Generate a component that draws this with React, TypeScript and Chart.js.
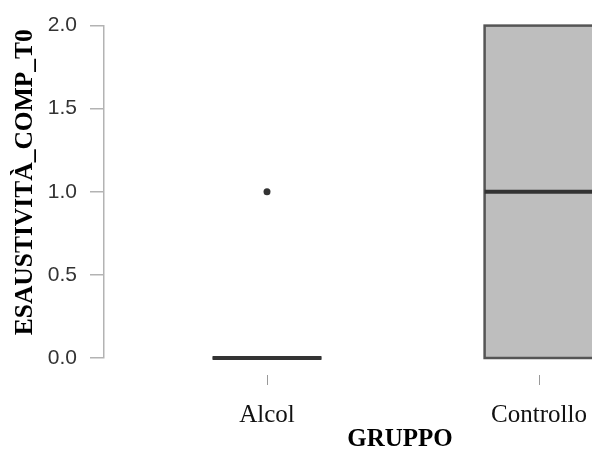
import React, { useEffect, useRef } from 'react';
import { Chart, registerables } from 'chart.js';

Chart.register(...registerables);

// Group summary statistics for the box plot
const groups = ['Alcol', 'Controllo'];
const groupPos = [1, 2];
const lowerWhisker = [0, 0];
const q1 = [0, 0];
const median = [0, 1];
const q3 = [0, 2];
const upperWhisker = [0, 2];
const outliers: number[][] = [[1], []];

const yTicks = [0, 0.5, 1, 1.5, 2];
const yTitle = 'ESAUSTIVITÀ_COMP_T0';
const xTitle = 'GRUPPO';

// half width of each box, in x-axis units
const BOX_HALF = 0.2;

const boxPlugin = {
  id: 'boxes',
  beforeDatasetsDraw(chart: any) {
    const { ctx, scales } = chart;
    const x = scales.x;
    const y = scales.y;
    ctx.save();
    groupPos.forEach((g, i) => {
      const l = x.getPixelForValue(g - BOX_HALF);
      const r = x.getPixelForValue(g + BOX_HALF);
      const cx = x.getPixelForValue(g);
      const top = y.getPixelForValue(q3[i]);
      const bot = y.getPixelForValue(q1[i]);

      // whiskers
      ctx.strokeStyle = '#4d4d4d';
      ctx.lineWidth = 2;
      ctx.beginPath();
      ctx.moveTo(cx, y.getPixelForValue(upperWhisker[i]));
      ctx.lineTo(cx, top);
      ctx.moveTo(cx, bot);
      ctx.lineTo(cx, y.getPixelForValue(lowerWhisker[i]));
      ctx.stroke();

      // box
      ctx.fillStyle = '#bebebe';
      ctx.fillRect(l, top, r - l, bot - top);
      ctx.strokeStyle = '#555555';
      ctx.lineWidth = 2.5;
      ctx.strokeRect(l, top, r - l, bot - top);

      // median
      ctx.strokeStyle = '#333333';
      ctx.lineWidth = 4;
      ctx.beginPath();
      const my = y.getPixelForValue(median[i]);
      ctx.moveTo(l, my);
      ctx.lineTo(r, my);
      ctx.stroke();
    });
    ctx.restore();
  },
};

export default function App() {
  const canvasRef = useRef<HTMLCanvasElement | null>(null);

  useEffect(() => {
    document.body.style.margin = '0';
    const canvas = canvasRef.current;
    if (!canvas) return;

    const outlierPoints = outliers.flatMap((vals, i) =>
      vals.map((v) => ({ x: groupPos[i], y: v }))
    );

    const chart = new Chart(canvas, {
      type: 'scatter',
      data: {
        datasets: [
          {
            data: outlierPoints,
            pointRadius: 3.5,
            pointBackgroundColor: '#333333',
            pointBorderWidth: 0,
            clip: false as any,
          },
        ],
      },
      plugins: [boxPlugin],
      options: {
        animation: false,
        responsive: true,
        maintainAspectRatio: false,
        layout: { padding: { top: 23, right: 0, left: 0, bottom: 0 } },
        plugins: {
          legend: { display: false },
          tooltip: { enabled: false },
        },
        scales: {
          x: {
            type: 'linear',
            min: 0.4007,
            max: 2.5772,
            afterBuildTicks: (scale: any) => {
              scale.ticks = groupPos.map((v) => ({ value: v }));
            },
            afterFit: (scale: any) => {
              scale.height = 92;
              scale.paddingLeft = 0;
              scale.paddingRight = 0;
            },
            ticks: {
              autoSkip: false,
              maxRotation: 0,
              padding: 15,
              color: '#111111',
              font: { family: 'Liberation Serif', size: 25 },
              callback: (v: any) => groups[groupPos.indexOf(Number(v))] ?? '',
            },
            grid: {
              drawOnChartArea: false,
              drawTicks: true,
              tickLength: 27,
              color: '#999999',
              tickBorderDash: [0, 17, 10, 100],
            } as any,
            border: { display: false },
            title: {
              display: true,
              text: xTitle,
              color: '#000000',
              font: { family: 'Liberation Serif', size: 25, weight: 'bold', lineHeight: 0.8 },
              padding: 0,
            },
          },
          y: {
            type: 'linear',
            min: 0,
            max: 2,
            afterBuildTicks: (scale: any) => {
              scale.ticks = yTicks.map((v) => ({ value: v }));
            },
            afterFit: (scale: any) => {
              scale.width = 104;
            },
            ticks: {
              padding: 13,
              color: '#333333',
              font: { family: 'Liberation Sans', size: 21 },
              callback: (v: any) => Number(v).toFixed(1),
            },
            grid: {
              drawOnChartArea: false,
              drawTicks: true,
              tickLength: 14,
              color: '#b3b3b3',
              lineWidth: 1.5,
            },
            border: { display: true, color: '#b3b3b3', width: 1.5 },
            title: {
              display: true,
              // leading spaces lift the rotated title a little above centre
              text: '   ' + yTitle,
              color: '#000000',
              font: { family: 'Liberation Serif', size: 25.5, weight: 'bold', lineHeight: 1.2 },
              padding: { top: 10, bottom: 0 },
            },
          },
        },
      },
    });

    return () => chart.destroy();
  }, []);

  // the plot is wider than the visible frame and is cut off on the right
  return (
    <div style={{ width: 592, height: 450, overflow: 'hidden' }}>
      <div style={{ width: 700, height: 450, position: 'relative' }}>
        <canvas ref={canvasRef} />
      </div>
    </div>
  );
}
